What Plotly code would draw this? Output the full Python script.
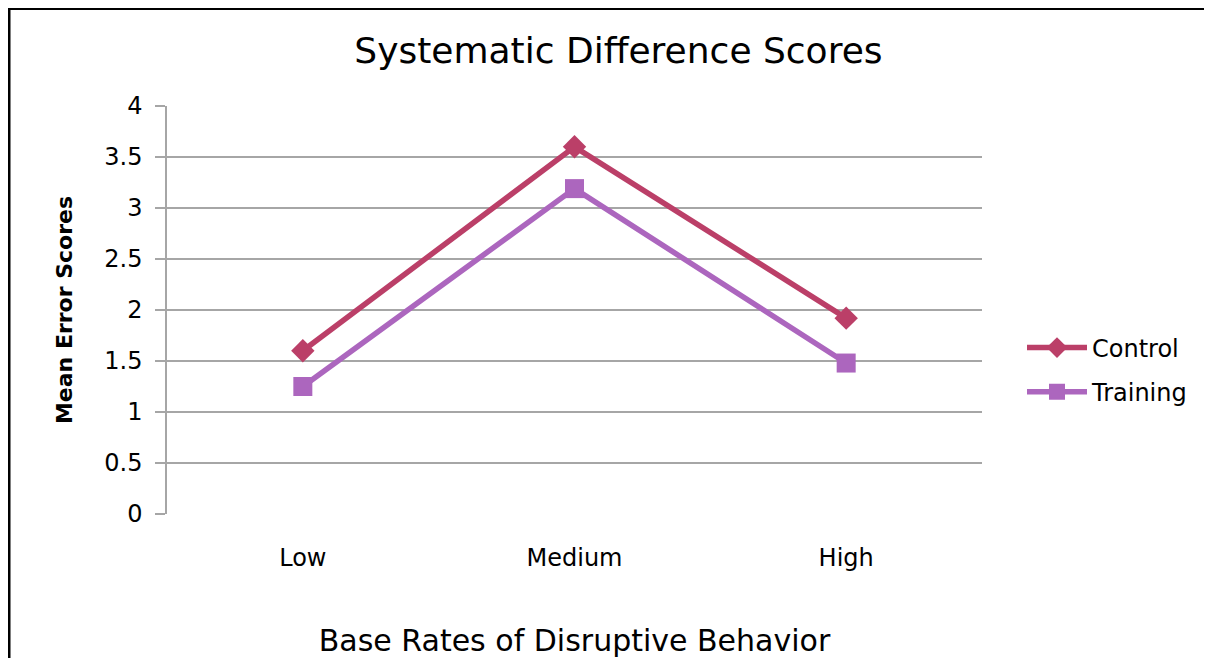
import plotly.graph_objects as go

categories = ["Low", "Medium", "High"]
control = [1.6, 3.6, 1.92]
training = [1.25, 3.19, 1.48]
y_ticks = [0, 0.5, 1, 1.5, 2, 2.5, 3, 3.5, 4]
y_tick_labels = ["0", "0.5", "1", "1.5", "2", "2.5", "3", "3.5", "4"]

# page has an 8px body margin, so the figure is 8px smaller than the window
W, H = 1204, 650
L, R, T, B = 159, 230, 98, 144
pw, ph = W - L - R, H - T - B

def px_x(px):
    return (px - L) / pw

def px_y(py):
    return (H - B - py) / ph

fig = go.Figure()
fig.add_trace(go.Scatter(
    x=categories, y=control, name="Control", mode="lines+markers",
    line=dict(color="#BB3F68", width=5.5),
    marker=dict(symbol="diamond", size=18, color="#BB3F68"),
    legendgroup="a",
))
fig.add_trace(go.Scatter(
    x=categories, y=training, name="Training", mode="lines+markers",
    line=dict(color="#AC66BE", width=5.5),
    marker=dict(symbol="square", size=19, color="#AC66BE"),
    legendgroup="b",
))

font_family = "DejaVu Sans, Verdana, sans-serif"

fig.update_layout(
    width=W, height=H,
    margin=dict(l=L, r=R, t=T, b=B),
    paper_bgcolor="white", plot_bgcolor="white",
    font=dict(family=font_family, color="black"),
    title=dict(text="Systematic Difference Scores", x=0.507, xanchor="center",
               y=1 - 42 / H, yanchor="middle",
               font=dict(size=36, family=font_family, color="black")),
    showlegend=True,
    legend=dict(x=px_x(1014), xanchor="left", y=px_y(362), yanchor="middle",
                font=dict(size=24, family=font_family, color="black"),
                tracegroupgap=10, traceorder="grouped", itemwidth=60,
                bgcolor="rgba(0,0,0,0)"),
    xaxis=dict(
        type="category", range=[-0.5, 2.5], automargin=False,
        showgrid=False, showline=False, zeroline=False,
        ticks="outside", ticklen=22, tickcolor="rgba(0,0,0,0)",
        tickfont=dict(size=24, color="black"),
        title=dict(text="Base Rates of Disruptive Behavior",
                   font=dict(size=30, color="black"), standoff=59),
    ),
    yaxis=dict(
        range=[0, 4], tickvals=y_ticks, ticktext=y_tick_labels,
        automargin=False,
        showgrid=True, gridcolor="#A6A6A6", gridwidth=1.5,
        showline=True, linecolor="#A6A6A6", linewidth=1.5,
        ticks="outside", ticklen=10, tickcolor="#A6A6A6", tickwidth=1.5,
        ticklabelstandoff=8,
        zeroline=False,
        tickfont=dict(size=24, color="black"),
        title=dict(text="<b>Mean Error Scores</b>",
                   font=dict(size=22, color="black"), standoff=26),
    ),
    shapes=[
        dict(type="line", xref="paper", yref="paper",
             x0=px_x(1), x1=px_x(W), y0=px_y(0.5), y1=px_y(0.5),
             line=dict(color="black", width=3)),
        dict(type="line", xref="paper", yref="paper",
             x0=px_x(1), x1=px_x(1), y0=px_y(0), y1=px_y(H),
             line=dict(color="black", width=3)),
    ],
)

fig.write_html("out.html")
